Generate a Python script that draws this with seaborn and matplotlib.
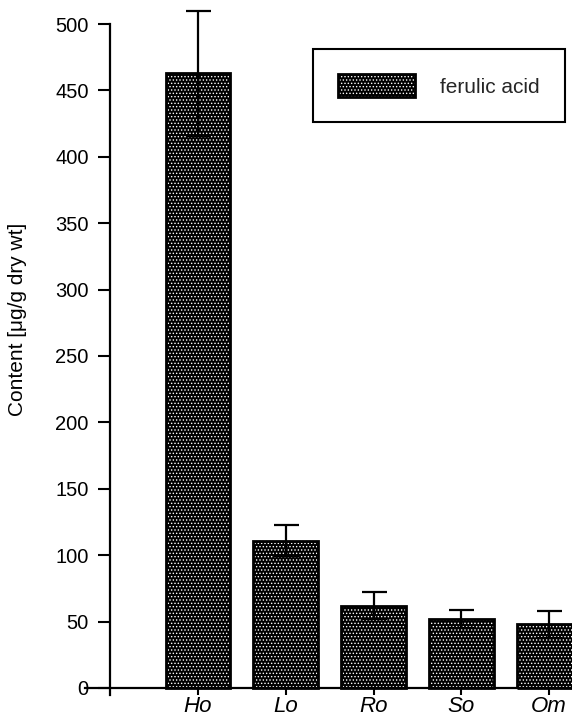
import matplotlib
matplotlib.use("Agg")
import matplotlib.pyplot as plt
import seaborn as sns
import pandas as pd
from matplotlib.patches import Rectangle, Patch

categories = ["Ho", "Lo", "Ro", "So", "Om"]
values = [463, 111, 62, 52, 48]
errors = [47, 11.5, 10, 7, 10]
yticks = [0, 50, 100, 150, 200, 250, 300, 350, 400, 450, 500]
series_name = "ferulic acid"
ylabel = "Content [\u03bcg/g dry wt]"

sns.set_style("ticks")
plt.rcParams["font.family"] = ["Liberation Sans", "DejaVu Sans"]
plt.rcParams["hatch.linewidth"] = 0.6

df = pd.DataFrame({"cat": categories, "val": values})

fig = plt.figure(figsize=(5.72, 7.16), dpi=100)
ax = fig.add_axes([85 / 572, (716 - 695) / 716, (572 - 85) / 572, (695 - 24) / 716])

HATCH = "....."
FACE = "black"
sns.barplot(data=df, x="cat", y="val", color="black", saturation=1,
            width=0.74, errorbar=None, ax=ax)

for p in list(ax.patches):
    p.set_facecolor(FACE)
    p.set_edgecolor("white")
    p.set_hatch(HATCH)
    p.set_linewidth(0)
    r = Rectangle(p.get_xy(), p.get_width(), p.get_height(), fill=False,
                  edgecolor="black", linewidth=2.0, zorder=3)
    ax.add_patch(r)

xs = [p.get_x() + p.get_width() / 2 for p in ax.patches[:len(values)]]
eb = ax.errorbar(xs, values, yerr=errors, fmt="none", ecolor="black",
                 elinewidth=1.6, capsize=9, capthick=1.6, zorder=4)
for art in list(eb.lines[1]) + list(eb.lines[2]):
    art.set_clip_on(False)

ax.set_xlim(-1.288, 4.262)
ax.set_ylim(-5.3, 500)
ax.set_yticks(yticks)
ax.spines["left"].set_position(("data", -1))
ax.spines["bottom"].set_position(("data", 0))
ax.spines["top"].set_visible(False)
ax.spines["right"].set_visible(False)
for s in ("left", "bottom"):
    ax.spines[s].set_linewidth(1.6)
    ax.spines[s].set_color("black")

ax.tick_params(axis="y", direction="out", length=8.5, width=1.5, pad=7,
               labelsize=14.5, colors="black")
ax.tick_params(axis="x", direction="out", length=5, width=1.5, pad=0.5,
               labelsize=16, colors="black")
for lab in ax.get_xticklabels():
    lab.set_fontstyle("italic")

ax.set_xlabel("")
ax.set_ylabel(ylabel, fontsize=15, color="black")
ax.yaxis.set_label_coords(-0.119, 0.56)

h1 = Patch(facecolor=FACE, edgecolor="white", hatch=HATCH, linewidth=0)
h2 = Patch(facecolor="none", edgecolor="black", linewidth=2.0)
leg = ax.legend([(h1, h2)], [series_name], loc="upper left",
                bbox_to_anchor=(313 / 572, 1 - 49 / 716),
                bbox_transform=fig.transFigure, borderaxespad=0,
                fontsize=15, handlelength=3.7, handleheight=1.35,
                handletextpad=1.2, borderpad=1.2, fancybox=False,
                framealpha=1, edgecolor="black")
leg.get_frame().set_linewidth(1.5)

fig.savefig("out.png", dpi=100)
